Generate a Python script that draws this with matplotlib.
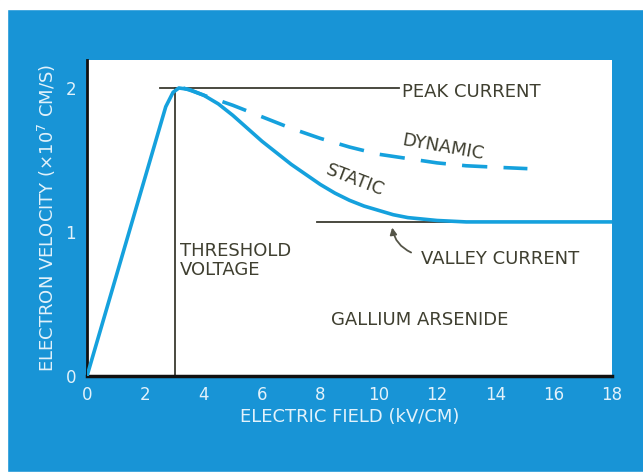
import matplotlib
matplotlib.use("Agg")
import matplotlib.pyplot as plt
from matplotlib.patches import Rectangle

# Electron drift velocity in GaAs vs. applied field
static_field = [0.0, 2.7, 2.95, 3.15, 3.5, 4.0, 4.5, 5.0, 5.5, 6.0, 6.5, 7.0, 7.5,
                8.0, 8.5, 9.0, 9.5, 10.0, 10.5, 11.0, 12.0, 13.0, 18.0]
static_velocity = [0.0, 1.87, 1.97, 2.0, 1.99, 1.95, 1.89, 1.81, 1.72, 1.63, 1.55,
                   1.47, 1.40, 1.33, 1.27, 1.22, 1.18, 1.15, 1.12, 1.10, 1.08, 1.07, 1.07]

dynamic_field = [3.3, 3.6, 4.0, 5.0, 6.0, 7.0, 8.0, 9.0, 10.0, 11.0, 12.0, 13.0, 14.0, 15.1]
dynamic_velocity = [2.0, 1.98, 1.95, 1.88, 1.80, 1.72, 1.65, 1.59, 1.54, 1.51, 1.48,
                    1.46, 1.45, 1.44]

threshold_field = 3.0
peak_velocity = 2.0
valley_velocity = 1.07

x_ticks = [0, 2, 4, 6, 8, 10, 12, 14, 16, 18]
y_ticks = [0, 1, 2]

BG = "#1894d6"
CURVE = "#15a1dd"
INK = "#3f3f30"
LIGHT = "#e2f2fb"

W, H = 643, 474
fig = plt.figure(figsize=(W / 100, H / 100), dpi=100)
fig.patch.set_facecolor(BG)

# paper margin around the printed panel
for (x0, y0, w, h) in [(0, 0, 7, H), (0, H - 9, W, 9), (0, 0, W, 2)]:
    fig.add_artist(Rectangle((x0 / W, y0 / H), w / W, h / H,
                             transform=fig.transFigure, color="white", zorder=0))

ax = fig.add_axes([87 / W, (H - 376) / H, (612 - 87) / W, (376 - 60) / H])
ax.set_facecolor("white")
ax.set_xlim(0, 18)
ax.set_ylim(0, 2 + 28 / 144)

for side in ("top", "right"):
    ax.spines[side].set_visible(False)
ax.spines["left"].set_linewidth(2)
ax.spines["bottom"].set_linewidth(2.5)
ax.spines["left"].set_color("#111111")
ax.spines["bottom"].set_color("#111111")

ax.set_xticks(x_ticks)
ax.set_yticks(y_ticks)
ax.tick_params(axis="both", direction="in", colors="#444438", labelcolor=LIGHT,
               labelsize=12)
ax.tick_params(axis="x", length=8, width=1.3, pad=7)
ax.tick_params(axis="y", length=9, width=1.3, pad=8)
for t in ax.xaxis.get_major_ticks():
    if t.get_loc() in (0, 18):
        t.tick1line.set_visible(False)
for t in ax.yaxis.get_major_ticks():
    if t.get_loc() == 0:
        t.tick1line.set_visible(False)

# reference lines
ax.plot([2.5, 10.7], [peak_velocity, peak_velocity], color="#3a3a30", lw=1.3, zorder=2)
ax.plot([threshold_field, threshold_field], [0, peak_velocity], color="#3a3a30",
        lw=1.3, zorder=2)
ax.plot([7.9, 18], [valley_velocity, valley_velocity], color="#3a3a30", lw=1.3, zorder=2)

# curves
ax.plot(static_field, static_velocity, color=CURVE, lw=2.6, zorder=3,
        solid_capstyle="round", solid_joinstyle="round")
ax.plot(dynamic_field, dynamic_velocity, color=CURVE, lw=2.6, zorder=3,
        dashes=(7, 4.5))

txt = dict(color=INK, fontsize=13, family="DejaVu Sans")
ax.text(10.8, peak_velocity - 0.03, "PEAK CURRENT", ha="left", va="center", **txt)
ax.text(12.2, 1.59, "DYNAMIC", ha="center", va="center", rotation=-10, **txt)
ax.text(9.2, 1.36, "STATIC", ha="center", va="center", rotation=-21, **txt)
ax.text(3.2, 0.80, "THRESHOLD\nVOLTAGE", ha="left", va="center",
        linespacing=1.05, **txt)
ax.text(11.45, 0.815, "VALLEY CURRENT", ha="left", va="center", **txt)
ax.text(8.35, 0.39, "GALLIUM ARSENIDE", ha="left", va="center", **txt)

ax.annotate("", xy=(10.45, valley_velocity - 0.02), xytext=(11.2, 0.85),
            arrowprops=dict(arrowstyle="-|>", color="#555548", lw=1.3,
                            mutation_scale=10,
                            connectionstyle="arc3,rad=-0.3"))

ax.set_xlabel("ELECTRIC FIELD (kV/CM)", color=LIGHT, fontsize=13, labelpad=3)
ax.set_ylabel("ELECTRON VELOCITY (×10$^7$ CM/S)", color=LIGHT, fontsize=13,
              labelpad=5)

fig.savefig("out.png", dpi=100, facecolor=fig.get_facecolor())
